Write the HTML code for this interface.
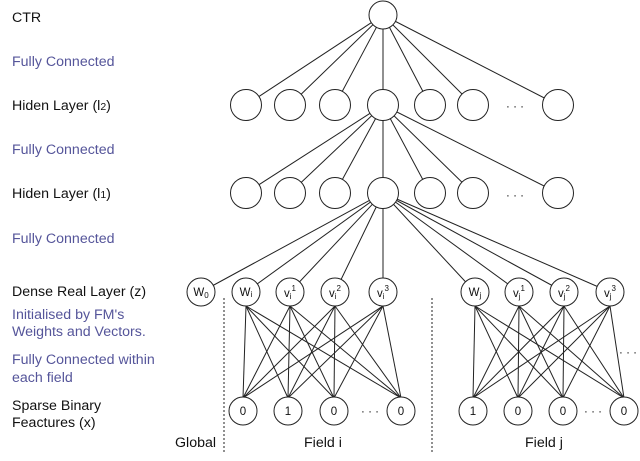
<!DOCTYPE html>
<html><head><style>
body{margin:0;background:#fff}
svg text{font-family:"Liberation Sans",Arial,sans-serif}
</style></head><body>
<svg width="640" height="456" viewBox="0 0 640 456" xmlns="http://www.w3.org/2000/svg">
<g font-size="14.2" fill="#111">
<text x="12" y="22">CTR</text>
<text x="12" y="66" fill="#55559a">Fully Connected</text>
<text x="12" y="110">Hiden Layer (l<tspan font-size="10.5">2</tspan>)</text>
<text x="12" y="154" fill="#55559a">Fully Connected</text>
<text x="12" y="198">Hiden Layer (l<tspan font-size="10.5">1</tspan>)</text>
<text x="12" y="243" fill="#55559a">Fully Connected</text>
<text x="12" y="296">Dense Real Layer (z)</text>
<text x="12" y="319" fill="#55559a">Initialised by FM's</text>
<text x="12" y="336" fill="#55559a">Weights and Vectors.</text>
<text x="12" y="364" fill="#55559a">Fully Connected within</text>
<text x="12" y="382" fill="#55559a">each field</text>
<text x="12" y="410">Sparse Binary</text>
<text x="12" y="427">Feactures (x)</text>
<text x="175" y="447">Global</text>
<text x="304" y="447">Field i</text>
<text x="525" y="447">Field j</text>
</g>
<g stroke="#222" stroke-width="1" fill="none">
<g>
<line x1="383" y1="15" x2="246" y2="105"/><line x1="383" y1="15" x2="290" y2="105"/><line x1="383" y1="15" x2="335" y2="105"/><line x1="383" y1="15" x2="383" y2="105"/><line x1="383" y1="15" x2="430" y2="105"/><line x1="383" y1="15" x2="473" y2="105"/><line x1="383" y1="15" x2="558" y2="105"/>
<line x1="383" y1="105" x2="246" y2="193"/><line x1="383" y1="105" x2="290" y2="193"/><line x1="383" y1="105" x2="335" y2="193"/><line x1="383" y1="105" x2="383" y2="193"/><line x1="383" y1="105" x2="430" y2="193"/><line x1="383" y1="105" x2="473" y2="193"/><line x1="383" y1="105" x2="558" y2="193"/>
<line x1="383" y1="193" x2="201" y2="292"/><line x1="383" y1="193" x2="246" y2="292"/><line x1="383" y1="193" x2="290" y2="292"/><line x1="383" y1="193" x2="335" y2="292"/><line x1="383" y1="193" x2="383" y2="292"/><line x1="383" y1="193" x2="475" y2="292"/><line x1="383" y1="193" x2="519" y2="292"/><line x1="383" y1="193" x2="564" y2="292"/><line x1="383" y1="193" x2="610" y2="292"/>
</g>
<g>
<line x1="246" y1="306" x2="243" y2="398"/><line x1="246" y1="306" x2="288" y2="398"/><line x1="246" y1="306" x2="334" y2="398"/><line x1="246" y1="306" x2="401" y2="398"/>
<line x1="290" y1="306" x2="243" y2="398"/><line x1="290" y1="306" x2="288" y2="398"/><line x1="290" y1="306" x2="334" y2="398"/><line x1="290" y1="306" x2="401" y2="398"/>
<line x1="335" y1="306" x2="243" y2="398"/><line x1="335" y1="306" x2="288" y2="398"/><line x1="335" y1="306" x2="334" y2="398"/><line x1="335" y1="306" x2="401" y2="398"/>
<line x1="383" y1="306" x2="243" y2="398"/><line x1="383" y1="306" x2="288" y2="398"/><line x1="383" y1="306" x2="334" y2="398"/><line x1="383" y1="306" x2="401" y2="398"/>
<line x1="475" y1="306" x2="473" y2="398"/><line x1="475" y1="306" x2="518" y2="398"/><line x1="475" y1="306" x2="563" y2="398"/><line x1="475" y1="306" x2="624" y2="398"/>
<line x1="519" y1="306" x2="473" y2="398"/><line x1="519" y1="306" x2="518" y2="398"/><line x1="519" y1="306" x2="563" y2="398"/><line x1="519" y1="306" x2="624" y2="398"/>
<line x1="564" y1="306" x2="473" y2="398"/><line x1="564" y1="306" x2="518" y2="398"/><line x1="564" y1="306" x2="563" y2="398"/><line x1="564" y1="306" x2="624" y2="398"/>
<line x1="610" y1="306" x2="473" y2="398"/><line x1="610" y1="306" x2="518" y2="398"/><line x1="610" y1="306" x2="563" y2="398"/><line x1="610" y1="306" x2="624" y2="398"/>
</g>
<line x1="224" y1="298" x2="224" y2="452" stroke-dasharray="2,2"/>
<line x1="432" y1="298" x2="432" y2="452" stroke-dasharray="2,2"/>
</g>
<g stroke="#222" stroke-width="1" fill="#fff">
<circle cx="383" cy="15" r="14"/>
<circle cx="246" cy="105" r="15.5"/><circle cx="290" cy="105" r="15.5"/><circle cx="335" cy="105" r="15.5"/><circle cx="383" cy="105" r="15.5"/><circle cx="430" cy="105" r="15.5"/><circle cx="473" cy="105" r="15.5"/><circle cx="558" cy="105" r="15.5"/>
<circle cx="246" cy="193" r="15.5"/><circle cx="290" cy="193" r="15.5"/><circle cx="335" cy="193" r="15.5"/><circle cx="383" cy="193" r="15.5"/><circle cx="430" cy="193" r="15.5"/><circle cx="473" cy="193" r="15.5"/><circle cx="558" cy="193" r="15.5"/>
<circle cx="201" cy="292" r="14"/><circle cx="246" cy="292" r="14"/><circle cx="290" cy="292" r="14"/><circle cx="335" cy="292" r="14"/><circle cx="383" cy="292" r="14"/>
<circle cx="475" cy="292" r="14"/><circle cx="519" cy="292" r="14"/><circle cx="564" cy="292" r="14"/><circle cx="610" cy="292" r="14"/>
<circle cx="243" cy="411" r="14"/><circle cx="288" cy="411" r="14"/><circle cx="334" cy="411" r="14"/><circle cx="401" cy="411" r="14"/>
<circle cx="473" cy="411" r="14"/><circle cx="518" cy="411" r="14"/><circle cx="563" cy="411" r="14"/><circle cx="624" cy="411" r="14"/>
</g>
<g font-size="11.5" fill="#111" text-anchor="middle">
<text x="515" y="199">· · ·</text>
<text x="515" y="110">· · ·</text>
<text x="370" y="415">· · ·</text><text x="593" y="415">· · ·</text>
<text x="628" y="356">· · ·</text>
<text x="201" y="296">W<tspan font-size="8" dy="2">0</tspan></text>
<text x="246" y="296">W<tspan font-size="8" dy="1">i</tspan></text>
<text x="290" y="297">v<tspan font-size="8" dy="2">i</tspan><tspan font-size="8" dy="-8">1</tspan></text>
<text x="335" y="297">v<tspan font-size="8" dy="2">i</tspan><tspan font-size="8" dy="-8">2</tspan></text>
<text x="383" y="297">v<tspan font-size="8" dy="2">i</tspan><tspan font-size="8" dy="-8">3</tspan></text>
<text x="475" y="296">W<tspan font-size="8" dy="2">j</tspan></text>
<text x="519" y="297">v<tspan font-size="8" dy="2">j</tspan><tspan font-size="8" dy="-8">1</tspan></text>
<text x="564" y="297">v<tspan font-size="8" dy="2">j</tspan><tspan font-size="8" dy="-8">2</tspan></text>
<text x="610" y="297">v<tspan font-size="8" dy="2">j</tspan><tspan font-size="8" dy="-8">3</tspan></text>
<text x="243" y="415">0</text><text x="288" y="415">1</text><text x="334" y="415">0</text><text x="401" y="415">0</text>
<text x="473" y="415">1</text><text x="518" y="415">0</text><text x="563" y="415">0</text><text x="624" y="415">0</text>
</g>
</svg>
</body></html>
